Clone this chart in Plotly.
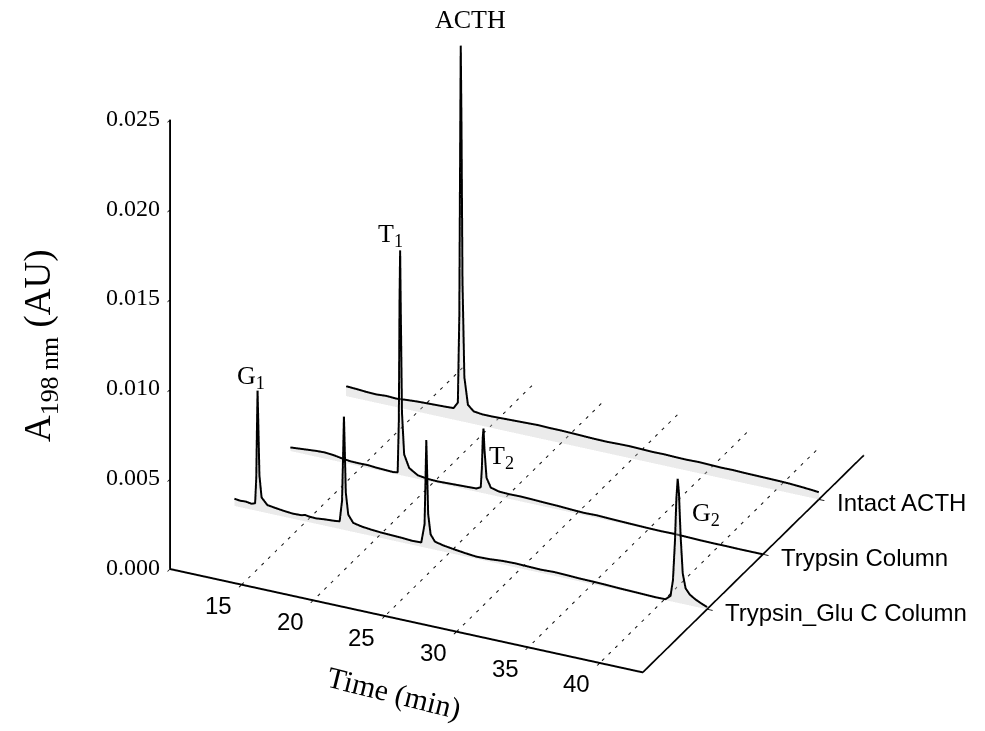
import plotly.graph_objects as go

# ---------------- data ----------------
series_names = ["Trypsin_Glu C Column", "Trypsin Column", "Intact ACTH"]
series_pos = [1, 2, 3]

time_glu = [10.0, 10.4, 10.8, 11.2, 11.45, 11.53, 11.58, 11.62, 11.67, 11.75, 11.9, 12.3, 12.9, 13.5,
            14.1, 14.7, 14.95, 15.05, 15.2, 15.7, 16.3, 16.9, 17.35, 17.52, 17.6, 17.65, 17.7, 17.78,
            17.95, 18.3, 18.9, 19.6, 20.3, 21.0, 21.7, 22.4, 23.05, 23.28, 23.35, 23.4, 23.45, 23.53,
            23.7, 24.0, 24.6, 25.3, 26.1, 26.9, 27.8, 28.7, 29.6, 30.5, 31.4, 32.3, 33.2, 34.1, 35.0,
            35.9, 36.8, 37.7, 38.6, 39.4, 40.1, 40.45, 40.62, 40.76, 40.86, 40.95, 41.04, 41.15, 41.3,
            41.5, 41.8, 42.2, 42.6, 43.0]
abs_glu = [0.00040, 0.00036, 0.00038, 0.00033, 0.00040, 0.0018, 0.0046, 0.0067, 0.0049, 0.0020, 0.0008,
           0.00045, 0.00038, 0.00032, 0.00028, 0.00030, 0.00036, 0.00034, 0.00032, 0.00030, 0.00035,
           0.00038, 0.00042, 0.0016, 0.0044, 0.0063, 0.0047, 0.0021, 0.0009, 0.00050, 0.00040, 0.00034,
           0.00030, 0.00028, 0.00026, 0.00022, 0.00024, 0.0013, 0.0040, 0.0060, 0.0045, 0.0019, 0.0008,
           0.00045, 0.00034, 0.00026, 0.00018, 0.00012, 0.00014, 0.00020, 0.00022, 0.00020, 0.00018,
           0.00021, 0.00019, 0.00016, 0.00015, 0.00013, 0.00010, 0.00008, 0.00006, 0.00004, 0.00005,
           0.0003, 0.0012, 0.0034, 0.0058, 0.0069, 0.0061, 0.0038, 0.0017, 0.0009, 0.0006, 0.0004,
           0.00025, 0.00012]

time_tryp = [10.0, 10.6, 11.2, 11.8, 12.4, 13.0, 13.6, 14.2, 14.8, 15.4, 16.0, 16.6, 17.2, 17.5, 17.58,
             17.63, 17.67, 17.72, 17.8, 17.95, 18.3, 18.9, 19.6, 20.3, 21.0, 21.7, 22.4, 23.0, 23.3,
             23.38, 23.44, 23.49, 23.56, 23.7, 24.0, 24.6, 25.3, 26.1, 26.9, 27.8, 28.7, 29.6, 30.5,
             31.4, 32.3, 33.2, 34.1, 35.0, 35.9, 36.8, 37.7, 38.6, 39.5, 40.4, 41.3, 42.2, 43.0]
abs_tryp = [0.00020, 0.00024, 0.00028, 0.00032, 0.00034, 0.00030, 0.00022, 0.00016, 0.00015, 0.00016,
            0.00012, 0.00010, 0.00008, 0.00012, 0.0030, 0.0096, 0.0125, 0.0088, 0.0035, 0.0012, 0.0005,
            0.00020, 0.00012, 0.00010, 0.00012, 0.00014, 0.00016, 0.00018, 0.00030, 0.0014, 0.0031,
            0.0036, 0.0024, 0.0009, 0.0004, 0.00028, 0.00026, 0.00027, 0.00025, 0.00022, 0.00020,
            0.00016, 0.00013, 0.00015, 0.00012, 0.00010, 0.00008, 0.00006, 0.00005, 0.00006, 0.00004,
            0.00002, 0.00001, 0.00001, 0.0, 0.0, 0.0]

time_acth = [10.0, 10.7, 11.4, 12.1, 12.8, 13.5, 14.2, 14.9, 15.6, 16.3, 17.0, 17.5, 17.8, 17.9, 17.96,
             18.0, 18.05, 18.12, 18.25, 18.5, 18.9, 19.5, 20.2, 21.0, 21.8, 22.6, 23.4, 24.2, 25.0, 25.8,
             26.6, 27.4, 28.2, 29.0, 29.8, 30.6, 31.4, 32.2, 33.0, 33.8, 34.6, 35.4, 36.2, 37.0, 37.8,
             38.6, 39.4, 40.2, 41.0, 41.8, 42.5, 43.0]
abs_acth = [0.00055, 0.00052, 0.00048, 0.00046, 0.00050, 0.00047, 0.00052, 0.00056, 0.00058, 0.00060,
            0.00062, 0.00064, 0.0010, 0.0058, 0.0155, 0.0209, 0.0165, 0.0078, 0.0025, 0.0010, 0.00070,
            0.00064, 0.00064, 0.00066, 0.00068, 0.00070, 0.00072, 0.00070, 0.00070, 0.00068, 0.00066,
            0.00064, 0.00063, 0.00065, 0.00066, 0.00064, 0.00062, 0.00063, 0.00061, 0.00060, 0.00062,
            0.00060, 0.00058, 0.00059, 0.00057, 0.00056, 0.00055, 0.00054, 0.00052, 0.00048, 0.00044,
            0.00040]

x_ticks = [15, 20, 25, 30, 35, 40]
z_ticks = [0.000, 0.005, 0.010, 0.015, 0.020, 0.025]
x_range = [10, 43]
y_range = [-0.15, 3.8]
z_range = [0, 0.025]

traces = [(time_glu, abs_glu, series_pos[0]),
          (time_tryp, abs_tryp, series_pos[1]),
          (time_acth, abs_acth, series_pos[2])]

# peak labels: (text, trace index, peak time, xshift, yshift)
peak_labels = [("G<sub>1</sub>", 0, 11.62, -7, 14),
               ("G<sub>2</sub>", 0, 40.95, 28, -35),
               ("T<sub>1</sub>", 1, 17.67, -10, 15),
               ("T<sub>2</sub>", 1, 23.49, 18, -28),
               ("ACTH", 2, 18.0, 10, 26)]

SERIF = "Liberation Serif"
SANS = "Liberation Sans"

fig = go.Figure()

# light gray fill under each chromatogram (curtain down to the floor)
for t, a, p in traces:
    n = len(t)
    xs, ys, zs = [], [], []
    for ti, ai in zip(t, a):
        xs += [ti, ti]
        ys += [p, p]
        zs += [0.0, ai]
    ii, jj, kk = [], [], []
    for k in range(n - 1):
        ii += [2 * k, 2 * k + 1]
        jj += [2 * k + 1, 2 * k + 3]
        kk += [2 * k + 2, 2 * k + 2]
    fig.add_trace(go.Mesh3d(x=xs, y=ys, z=zs, i=ii, j=jj, k=kk, color="#c4c4c4", opacity=0.35,
                            flatshading=True, hoverinfo="skip", showscale=False,
                            lighting=dict(ambient=1, diffuse=0, specular=0, roughness=1, fresnel=0)))

# dashed floor grid lines at the time ticks
gx, gy, gz = [], [], []
for v in x_ticks:
    gx += [v, v, None]
    gy += [y_range[0], y_range[1], None]
    gz += [0, 0, None]
fig.add_trace(go.Scatter3d(x=gx, y=gy, z=gz, mode="lines", hoverinfo="skip",
                           line=dict(color="#111111", width=2, dash="dot"), showlegend=False))

# chromatograms
for t, a, p in traces:
    fig.add_trace(go.Scatter3d(x=t, y=[p] * len(t), z=a, mode="lines", hoverinfo="skip",
                               line=dict(color="black", width=4), showlegend=False))

ann3d = []
for txt, idx, tpk, xs_, ys_ in peak_labels:
    t, a, p = traces[idx]
    zpk = a[t.index(tpk)]
    ann3d.append(dict(x=tpk, y=p, z=zpk, text=txt, showarrow=False, xshift=xs_, yshift=ys_,
                      font=dict(family=SERIF, size=26, color="black")))
# category labels on the depth axis
for name, p in zip(series_names, series_pos):
    ann3d.append(dict(x=x_range[1], y=p, z=0, text=name, showarrow=False, xanchor="left",
                      xshift=16, yshift=-3, font=dict(family=SANS, size=24, color="black")))
# time tick labels
for v in x_ticks:
    ann3d.append(dict(x=v, y=y_range[0], z=0, text=str(v), showarrow=False,
                      xshift=-23, yshift=-21, font=dict(family=SANS, size=24, color="black")))
# absorbance tick labels
for v in z_ticks:
    ann3d.append(dict(x=x_range[0], y=y_range[0], z=v, text="%.3f" % v, showarrow=False,
                      xanchor="right", xshift=-8, yshift=2,
                      font=dict(family=SERIF, size=24, color="black")))

axis_common = dict(showbackground=False, showgrid=False, zeroline=False, showspikes=False,
                   showline=True, linecolor="black", linewidth=4, ticks="outside", ticklen=6,
                   tickwidth=2, tickcolor="black", showticklabels=False, title=dict(text=""))

# camera: orthographic view from the front-right, looking down
view_dir = (0.3781, -0.8015, 0.4633)
cam_center = (-0.0181, -0.1176, -0.1888)
eye_dist = 2.0

fig.update_layout(
    width=985, height=731, margin=dict(l=0, r=0, t=0, b=0),
    paper_bgcolor="white", showlegend=False,
    scene=dict(
        domain=dict(x=[0, 1], y=[0, 1]),
        xaxis=dict(range=x_range, tickvals=x_ticks, **axis_common),
        yaxis=dict(range=y_range, tickvals=series_pos, **axis_common),
        zaxis=dict(range=z_range, tickvals=z_ticks, **axis_common),
        aspectmode="manual", aspectratio=dict(x=1.43, y=1.416, z=1.387),
        camera=dict(eye=dict(x=cam_center[0] + eye_dist * view_dir[0],
                             y=cam_center[1] + eye_dist * view_dir[1],
                             z=cam_center[2] + eye_dist * view_dir[2]),
                    up=dict(x=0, y=0, z=1),
                    center=dict(x=cam_center[0], y=cam_center[1], z=cam_center[2]),
                    projection=dict(type="orthographic")),
        annotations=ann3d,
    ),
    annotations=[
        dict(x=40 / 985, y=1 - 346 / 731, xref="paper", yref="paper", showarrow=False,
             xanchor="center", yanchor="middle",
             text="A<sub>198 nm</sub> (AU)", textangle=-90,
             font=dict(family=SERIF, size=37, color="black")),
        dict(x=394 / 985, y=1 - 693 / 731, xref="paper", yref="paper", showarrow=False,
             xanchor="center", yanchor="middle",
             text="Time (min)", textangle=14,
             font=dict(family=SERIF, size=30, color="black")),
    ],
)

fig.write_html("out.html", config={"displayModeBar": False})
